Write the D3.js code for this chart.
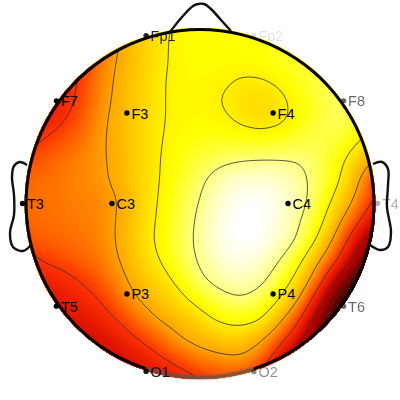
<!DOCTYPE html>
<html><head><meta charset="utf-8">
<script src="https://cdn.jsdelivr.net/npm/d3@7"></script>
<style>html,body{margin:0;padding:0;background:#fff}svg{display:block}text{font-family:"Liberation Sans",Arial,sans-serif}</style>
</head><body><div id="c"></div>
<script>
const channels = ["Fp1","Fp2","F7","F3","F4","F8","T3","C3","C4","T4","T5","P3","P4","T6","O1","O2"];
const chanX = [-0.31,0.31,-0.825,-0.42,0.42,0.825,-1.02,-0.506,0.506,1.02,-0.825,-0.42,0.42,0.825,-0.31,0.31];
const chanY = [0.965,0.965,0.59,0.52,0.52,0.59,0,0,0,0,-0.59,-0.52,-0.52,-0.59,-0.965,-0.965];
const chanFade = [0.85,0.12,1,1,1,0.6,1,1,1,0.3,1,1,1,0.6,0.9,0.45];
const levels = [1,2,3,4,5,6];
const colorStops = [0,1,1.8,2,3,4,5,6,7.5];
const colorValues = ["#ffffff","#ffff82","#ffff00","#fff000","#ffa500","#ff3200","#c80000","#6e0000","#0a0000"];

const r20  = [4.5,4.5,4.5,4.3,3.6,3,2.6,2.2,1.85,1.8,1.8,1.8,1.8,1.7,1.6,1.5,1.4,1.4,1.4];
const r40  = [4.5,4.5,4.5,4.2,3.5,3,2.5,2.1,1.85,1.8,1.8,1.8,1.8,1.7,1.6,1.5,1.4,1.4,1.4];
const r60  = [4.5,4.5,4.5,4.1,3.4,2.9,2.5,2.1,1.85,1.8,1.8,1.8,1.75,1.6,1.5,1.4,1.3,1.3,1.4];
const r80  = [4.6,4.6,4.4,3.95,3.3,2.85,2.45,2.05,1.85,1.85,1.9,2.05,2.05,1.9,1.6,1.35,1.2,1.2,1.4];
const r100 = [4.6,4.5,4.4,3.85,3.25,2.8,2.4,2.05,1.85,1.9,2,2.2,2.3,2.15,1.8,1.45,1.2,1.2,1.5];
const r120 = [4.6,4.5,4.1,3.7,3.15,2.75,2.4,2.05,1.85,1.85,1.9,2.1,2.3,2.15,1.8,1.45,1.2,1.5,2];
const r140 = [4.4,4,3.75,3.5,3.1,2.75,2.35,2.02,1.8,1.7,1.65,1.7,1.7,1.65,1.45,1.3,1.5,1.98,2.5];
const r160 = [3.8,3.7,3.5,3.3,3.1,2.8,2.35,2,1.7,1.45,1.2,1.05,1,1,1.02,1.3,1.85,2.5,3.2];
const r180 = [3.6,3.5,3.4,3.25,3.15,2.8,2.35,2,1.6,1.15,0.6,0.35,0.3,0.4,0.8,1.3,1.95,3.05,4.2];
const r200 = [3.5,3.45,3.4,3.3,3.25,3,2.4,1.95,1.45,1,0.35,0.05,0,0.2,0.7,1.5,2.35,3.35,4.3];
const r220 = [3.6,3.5,3.45,3.35,3.25,2.95,2.35,1.9,1.4,0.85,0.2,0,0,0.3,0.95,1.75,2.9,3.95,5.1];
const r240 = [3.8,3.6,3.55,3.45,3.3,2.9,2.3,1.85,1.35,0.8,0.15,0,0,0.4,1.15,2.2,3.5,4.85,6];
const r260 = [4.4,3.98,3.8,3.6,3.4,3,2.4,2,1.4,0.9,0.35,0.15,0.35,1,1.85,3,4.1,5.7,7];
const r280 = [4.6,4.4,4.25,3.98,3.65,3.2,2.65,2.3,1.8,1.1,0.7,0.5,0.75,1.5,2.35,3.7,5.4,6.8,7.5];
const r300 = [4.6,4.6,4.5,4.3,4,3.45,2.95,2.6,2.2,1.75,1.3,1.05,1.35,2,3.05,4.75,6.5,7.5,7.5];
const r320 = [4.6,4.6,4.6,4.6,4.35,3.95,3.4,2.95,2.7,2.3,1.9,1.75,1.9,2.85,4,5.7,7.2,7.5,7.5];
const r340 = [4.7,4.7,4.7,4.8,4.7,4.4,4,3.55,3.05,2.75,2.55,2.5,2.9,3.75,4.85,6.2,7.5,7.5,7.5];
const r360 = [4.7,4.7,4.7,4.8,4.8,4.75,4.5,4.15,3.75,3.4,3.2,3.1,3.5,4.6,6,7.5,7.5,7.5,7.5];
const r380 = [4.7,4.7,4.7,4.8,4.8,4.8,4.8,4.6,4.4,4.1,3.9,3.9,4.3,5.5,6.5,7.5,7.5,7.5,7.5];
const gridRows = [r20,r40,r60,r80,r100,r120,r140,r160,r180,r200,r220,r240,r260,r280,r300,r320,r340,r360,r380];

const W=400,H=400,cx=200,cy=203.5,R=174;
const x=d3.scaleLinear().domain([-1,1]).range([cx-R,cx+R]);
const y=d3.scaleLinear().domain([-1,1]).range([cy+R,cy-R]);
const nCol=gridRows[0].length,nRow=gridRows.length,up=4;
const fCol=(nCol-1)*up+1,fRow=(nRow-1)*up+1;
const colPos=d3.scaleLinear().domain([0,fCol-1]).range([0,nCol-1]);
const rowPos=d3.scaleLinear().domain([0,fRow-1]).range([0,nRow-1]);
const fine=new Float64Array(fCol*fRow);
for(let j=0;j<fRow;j++)for(let i=0;i<fCol;i++){
  const c=colPos(i),r=rowPos(j),c0=Math.min(Math.floor(c),nCol-2),r0=Math.min(Math.floor(r),nRow-2),a=c-c0,b=r-r0;
  fine[j*fCol+i]=(1-b)*((1-a)*gridRows[r0][c0]+a*gridRows[r0][c0+1])+b*((1-a)*gridRows[r0+1][c0]+a*gridRows[r0+1][c0+1]);
}
d3.blur2({data:fine,width:fCol,height:fRow},1);
const gx=d3.scaleLinear().domain([0.5,fCol-0.5]).range([x(-1.0345),x(1.0345)]);
const gy=d3.scaleLinear().domain([0.5,fRow-0.5]).range([y(1.0546),y(-1.0144)]);
const color=d3.scaleLinear().domain(colorStops).range(colorValues).clamp(true);
const contours=d3.contours().size([fCol,fRow]).smooth(true);
const path=d3.geoPath(d3.geoTransform({point(a,b){this.stream.point(gx(a),gy(b));}}));

const svg=d3.select("#c").append("svg").attr("width",W).attr("height",H);
const defs=svg.append("defs");
defs.append("clipPath").attr("id","head").append("circle").attr("cx",x(0)).attr("cy",y(0)).attr("r",R+1.5);
defs.append("filter").attr("id","soft").attr("x","-10%").attr("y","-10%").attr("width","120%").attr("height","120%")
  .append("feGaussianBlur").attr("stdDeviation",1.2);

const map=svg.append("g").attr("clip-path","url(#head)");
map.append("circle").attr("cx",x(0)).attr("cy",y(0)).attr("r",R+2).attr("fill","#fff");
map.selectAll("path.band").data(contours.thresholds(d3.range(0.05,7.5,0.05))(fine)).join("path")
  .attr("class","band").attr("d",path).attr("fill",d=>color(d.value+0.025));
map.selectAll("path.line").data(contours.thresholds(levels)(fine)).join("path")
  .attr("class","line").attr("d",path).attr("fill","none").attr("stroke","#333").attr("stroke-width",0.8);

const head=svg.append("g").attr("transform",`translate(${x(0)},${y(0)})`);
const ring=d3.arc().innerRadius(R-1.6).outerRadius(R+1.4);
const rad=d=>d*Math.PI/180;
head.append("path").attr("d",ring({startAngle:rad(198),endAngle:rad(522)})).attr("fill","#000");
head.append("path").attr("d",ring({startAngle:rad(162),endAngle:rad(198)})).attr("fill","#555").attr("filter","url(#soft)");

const outline=d3.line().x(d=>d[0]).y(d=>d[1]).curve(d3.curveCatmullRom.alpha(0.5));
const nose=[[170,32],[182,17],[193,6],[198,4],[204,4],[211,9],[221,20],[231,31]];
const earL=[[27,165],[20,162],[14,166],[12,177],[14,195],[14,215],[10,233],[13,247],[23,251],[31,245]];
const earR=[[373,164],[382,162],[388,169],[388,185],[387,207],[391,232],[388,247],[380,250],[370,245]];
svg.selectAll("path.out").data([nose,earL,earR]).join("path").attr("class","out")
  .attr("d",outline).attr("fill","none").attr("stroke","#111").attr("stroke-width",2.4);

const el=svg.selectAll("g.el").data(channels).join("g").attr("class","el")
  .attr("opacity",(d,i)=>chanFade[i]);
el.append("circle").attr("cx",(d,i)=>x(chanX[i])).attr("cy",(d,i)=>y(chanY[i])).attr("r",2.7).attr("fill","#000");
el.append("text").attr("x",(d,i)=>x(chanX[i])+4.5).attr("y",(d,i)=>y(chanY[i])+5.5)
  .attr("font-size",14.5).attr("fill","#000").text(d=>d);
</script></body></html>
